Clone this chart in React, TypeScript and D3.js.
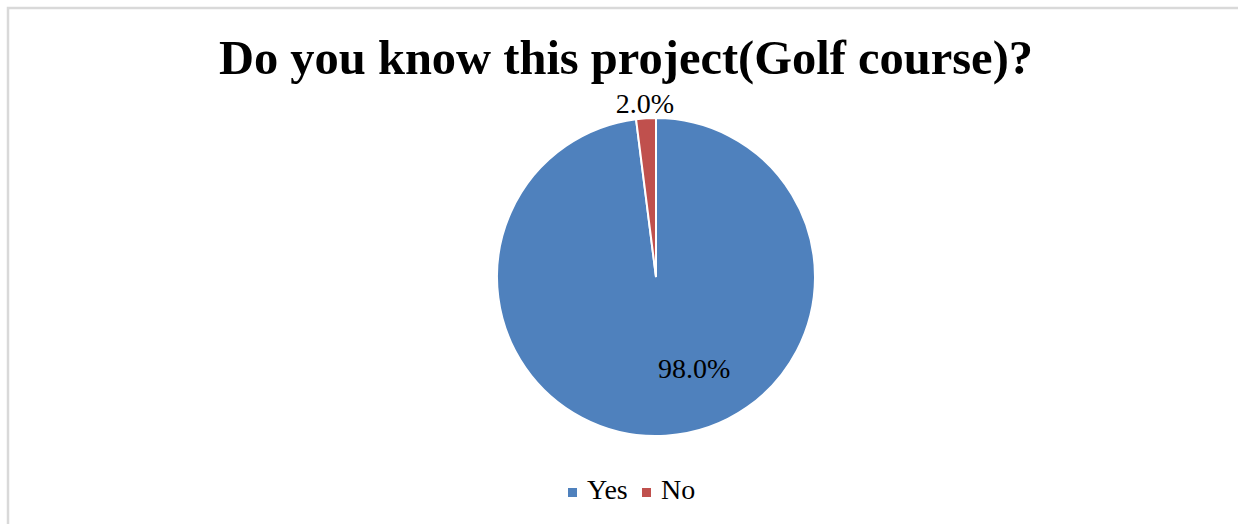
import React from "react";
import * as d3 from "d3";

const categories = ["Yes", "No"];
const values = [98.0, 2.0];
const colors = ["#4F81BD", "#C0504D"];
const title = "Do you know this project(Golf course)?";

export default function App() {
  const W = 1238, H = 524;
  const cx = 656, cy = 277, r = 159;
  const data = categories.map((c, i) => ({ c, v: values[i], color: colors[i] }));
  const pie = d3.pie<any>().sort(null).value((d) => d.v);
  const arcs = pie(data);
  const arc = d3.arc<any>().innerRadius(0).outerRadius(r);
  const fmt = (v: number) => v.toFixed(1) + "%";

  const labelPos = (a: any, i: number): [number, number] => {
    const mid = (a.startAngle + a.endAngle) / 2;
    if (i === 1) {
      const rr = r + 18;
      return [cx + Math.sin(mid) * rr, cy - Math.cos(mid) * rr + 13];
    }
    const rr = r * 0.62;
    return [cx + Math.sin(mid) * rr + 32, cy - Math.cos(mid) * rr + 3];
  };

  const font = "'Liberation Serif', 'Times New Roman', serif";
  return (
    <svg width={W} height={H} style={{ position: "absolute", left: 0, top: 0 }}>
      <rect x={0} y={0} width={W} height={H} fill="#fff" />
      <path d={`M8,${H} L8,8 L${W},8`} fill="none" stroke="#d9d9d9" strokeWidth={2.5} />
      <text x={626} y={74} textAnchor="middle" fontFamily={font} fontWeight="bold" fontSize={48.5} fill="#000">
        {title}
      </text>
      <g transform={`translate(${cx},${cy})`}>
        {arcs.map((a, i) => (
          <path key={i} d={arc(a) as string} fill={a.data.color} stroke="#fff" strokeWidth={2} />
        ))}
      </g>
      {arcs.map((a, i) => {
        const [x, y] = labelPos(a, i);
        return (
          <text key={i} x={x} y={y} textAnchor="middle" fontFamily={font} fontSize={28} fill="#000">
            {fmt(a.data.v)}
          </text>
        );
      })}
      <g>
        {data.map((d, i) => {
          const x0 = 568 + i * 74;
          return (
            <g key={i}>
              <rect x={x0} y={488} width={9} height={9} fill={d.color} />
              <text x={x0 + 19} y={499} fontFamily={font} fontSize={28} fill="#000">
                {d.c}
              </text>
            </g>
          );
        })}
      </g>
    </svg>
  );
}
